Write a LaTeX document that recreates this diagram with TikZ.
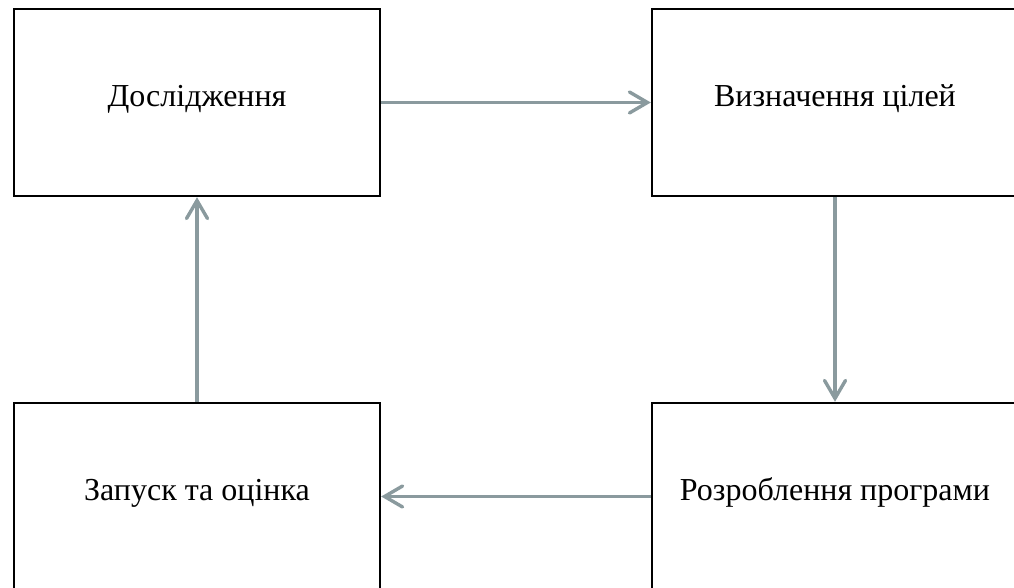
\documentclass[tikz,border=0pt]{standalone}
\usepackage{fontspec}
\setmainfont{Liberation Serif}
\usetikzlibrary{arrows.meta}
\begin{document}
\begin{tikzpicture}[x=1pt,y=1pt,
  stage/.style={draw=black, line width=2.4pt, minimum width=366pt, minimum height=187pt, inner sep=0pt, text height=14pt, text depth=6pt, font=\fontsize{32}{38}\selectfont},
  flow/.style={draw={rgb,255:red,138;green,154;blue,158}, line width=3.4pt, -{Straight Barb[length=18pt,width=21pt,line cap=round]}}
]
\useasboundingbox (0,0) rectangle (1014,588);
\clip (0,0) rectangle (1014,588);
\node[stage] (res) at (197,485.5) {Дослідження};
\node[stage] (goal) at (835,485.5) {Визначення цілей};
\node[stage] (dev) at (835,91.5) {Розроблення програми};
\node[stage] (run) at (197,91.5) {Запуск та оцінка};
\draw[flow] (res) -- (goal);
\draw[flow] (goal) -- (dev);
\draw[flow] (dev) -- (run);
\draw[flow] (run) -- (res);
\end{tikzpicture}
\end{document}
